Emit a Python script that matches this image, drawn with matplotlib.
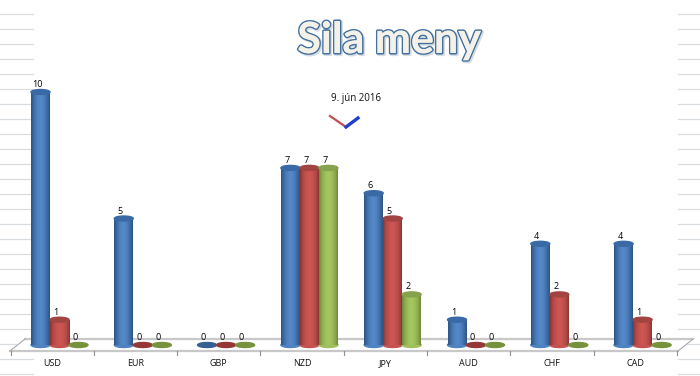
import matplotlib
matplotlib.use('Agg')
import matplotlib.pyplot as plt
import matplotlib.patheffects as pe
from matplotlib.colors import LinearSegmentedColormap
from matplotlib.patches import Ellipse
from matplotlib.transforms import Affine2D
import numpy as np

# data
currencies = ['USD', 'EUR', 'GBP', 'NZD', 'JPY', 'AUD', 'CHF', 'CAD']
series_a = [10, 5, 0, 7, 6, 1, 4, 4]
series_b = [1, 0, 0, 7, 5, 0, 2, 1]
series_c = [0, 0, 0, 7, 2, 0, 0, 0]

W, H = 700, 376
fig = plt.figure(figsize=(W / 100, H / 100), dpi=100)
ax = fig.add_axes([0, 0, 1, 1])
ax.axis('off')

# one category = 83.3 px, one unit = 25.3 px, USD centre at x=59, zero at y=345
px_x, px_y = 83.3, 25.3
x0, y0 = 59.5, 345
xlim = (-x0 / px_x, (W - x0) / px_x)
ylim = ((y0 - H) / px_y, y0 / px_y)

# pixel transform for walls and floor (origin top left)
pix = Affine2D().scale(1 / W, -1 / H).translate(0, 1) + ax.transAxes

# walls
for y in np.arange(14, 375, 15):
    ax.plot([0, 33], [y, y], color='#d8dde1', lw=0.9, transform=pix, zorder=1)
    ax.plot([678, 700], [y, y], color='#d8dde1', lw=0.9, transform=pix, zorder=1)

# floor
ax.fill([10, 25, 693, 678], [351, 339, 339, 351], color='white', transform=pix, zorder=1.5)
ax.plot([25, 693], [339, 339], color='#c8c8c8', lw=1.6, transform=pix, zorder=2)
ax.plot([10, 678], [351, 351], color='#c8c8c8', lw=1.6, transform=pix, zorder=2)
ax.plot([10, 25], [351, 339], color='#a8a8a8', lw=0.8, transform=pix, zorder=2)
ax.plot([678, 693], [351, 339], color='#a8a8a8', lw=0.8, transform=pix, zorder=2)
for i in range(9):
    xt = 10.5 + i * 83.3
    ax.plot([xt, xt], [351, 355], color='#909090', lw=0.8, transform=pix, zorder=2)

palettes = [
    (['#2c5484', '#3f6fa8', '#4f82c0', '#5589c8', '#4f82c0', '#3f6fa8', '#2c5484'], '#3a6aa5', '#376092'),
    (['#8a3634', '#b24a47', '#c6524f', '#cf5754', '#c6524f', '#b24a47', '#8a3634'], '#a24441', '#953735'),
    (['#6f893c', '#8eae50', '#9fc05c', '#a6c860', '#9fc05c', '#8eae50', '#6f893c'], '#86a24c', '#76923c'),
]
bar_w = 19 / px_x
ell_h = 5 / px_y

for k, (vals, (grad, top_col, flat_col)) in enumerate(zip([series_a, series_b, series_c], palettes)):
    cmap = LinearSegmentedColormap.from_list('c%d' % k, grad)
    xs = np.arange(len(currencies)) + (k - 1) * bar_w
    bars = ax.bar(xs, vals, width=bar_w, color=grad[2], zorder=3)
    for x, v, b in zip(xs, vals, bars):
        if v == 0:
            ax.add_patch(Ellipse((x, 0), bar_w, 5 / px_y, color=flat_col, zorder=4))
        else:
            ax.add_patch(Ellipse((x, 0), bar_w, ell_h, color=grad[2], zorder=3))
            im = ax.imshow(np.linspace(0, 1, 64).reshape(1, -1), cmap=cmap, aspect='auto',
                           extent=(x - bar_w / 2, x + bar_w / 2, 0, v), zorder=3.5)
            im.set_clip_path(b)
            ax.add_patch(Ellipse((x, v), bar_w, ell_h, color=top_col, zorder=4))
        ax.text(x - 3.5 / px_x, v + 7.5 / px_y, str(v), ha='center', va='center',
                fontsize=6.5, color='black', family='Open Sans', zorder=6)

ax.set_xlim(xlim)
ax.set_ylim(ylim)

# category labels
for i, c in enumerate(currencies):
    ax.text(i - 7.5 / px_x, (y0 - 364) / px_y, c, ha='center', va='center', fontsize=6.5,
            color='#111111', family='Open Sans')

# title
ax.text(389, 40, 'Sila meny', transform=pix, ha='center', va='center', fontsize=31,
        family='Lato', fontweight='bold', color='#f3f1e8', zorder=7,
        path_effects=[pe.SimpleLineShadow(offset=(1, -1), shadow_color='#9aa8b4', alpha=0.4, linewidth=2.5),
                      pe.withStroke(linewidth=2.2, foreground='#44719f'),
                      pe.Normal()])

# date and small legend mark
ax.text(356, 98, '9. jún 2016', transform=pix, ha='center', va='center', fontsize=7,
        family='Open Sans', color='#111111')
ax.plot([330, 346], [116, 127], color='#c0504d', lw=1.6, transform=pix, zorder=5)
ax.plot([346, 358], [127, 118], color='#1f3fd0', lw=2.4, transform=pix, zorder=5)

fig.savefig('out.png', dpi=100)
